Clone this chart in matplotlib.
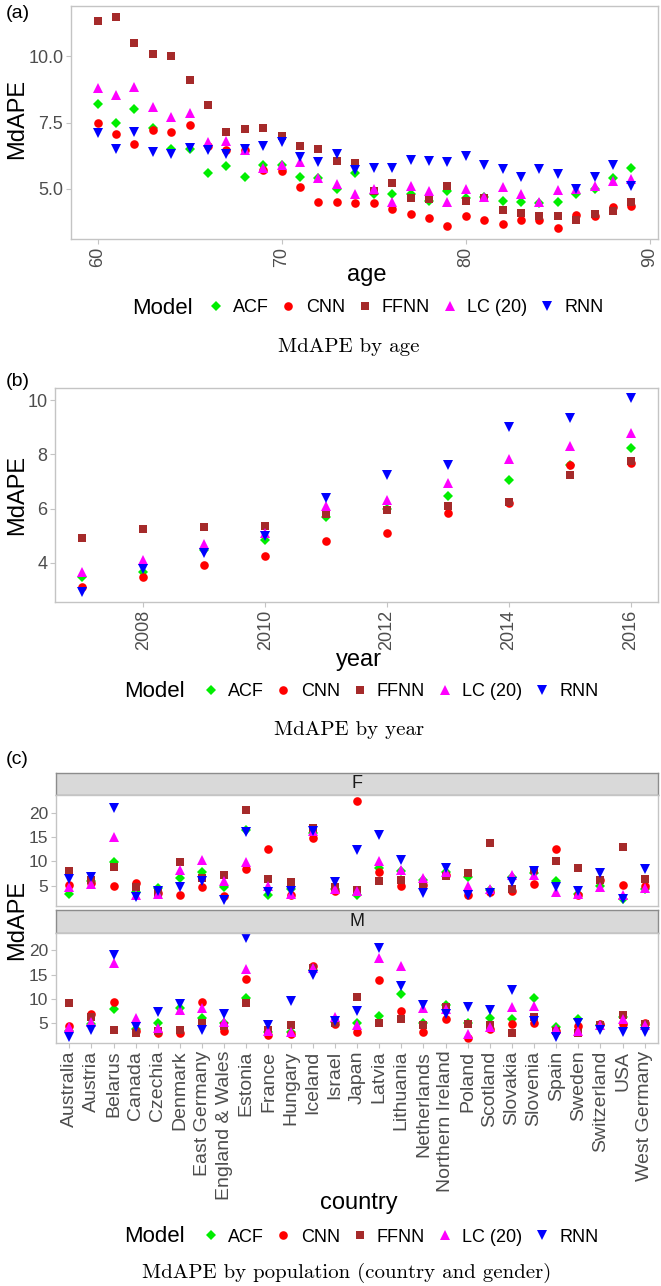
import matplotlib
matplotlib.use("Agg")
import matplotlib.pyplot as plt
from matplotlib.lines import Line2D
import numpy as np

plt.rcParams['font.family'] = ['Liberation Sans', 'DejaVu Sans']

# ---------------- data ----------------
models = ["ACF", "CNN", "FFNN", "LC (20)", "RNN"]
colors = ["#00EE00", "#FF0000", "#A52A2A", "#FF00FF", "#0000FF"]
markers = ["D", "o", "s", "^", "v"]
msizes = [5.2, 6.2, 5.4, 7.6, 7.6]

ages = list(range(60, 90))
acf_age = [8.2, 7.5, 8.0, 7.3, 6.5, 6.5, 5.6, 5.85, 5.45, 5.9, 5.9, 5.45, 5.4, 5.0, 5.6,
           4.8, 4.8, 4.8, 4.55, 4.9, 4.65, 4.7, 4.55, 4.5, 4.45, 4.5, 4.8, 4.98, 5.4, 5.8]
cnn_age = [7.5, 7.06, 6.7, 7.2, 7.15, 7.4, 6.6, 6.45, 6.45, 5.7, 5.65, 5.05, 4.5, 4.5, 4.45,
           4.45, 4.25, 4.05, 3.9, 3.6, 3.95, 3.8, 3.65, 3.8, 3.8, 3.5, 4.0, 3.95, 4.3, 4.35]
ffnn_age = [11.35, 11.5, 10.5, 10.1, 10.0, 9.1, 8.15, 7.15, 7.25, 7.3, 7.0, 6.6, 6.5, 6.05, 5.98,
            4.9, 5.2, 4.65, 4.6, 5.1, 4.55, 4.65, 4.2, 4.1, 3.95, 3.95, 3.8, 4.05, 4.15, 4.5]
lc_age = [8.8, 8.54, 8.85, 8.1, 7.7, 7.85, 6.75, 6.8, 6.45, 5.8, 5.9, 6.0, 5.4, 5.16, 4.8,
          5.0, 4.5, 5.1, 4.9, 4.5, 4.97, 4.7, 5.05, 4.8, 4.5, 4.95, 5.0, 5.1, 5.3, 5.35]
rnn_age = [7.1, 6.5, 7.15, 6.4, 6.3, 6.55, 6.45, 6.3, 6.5, 6.6, 6.75, 6.2, 6.0, 6.3, 5.7,
           5.8, 5.8, 6.1, 6.05, 6.0, 6.25, 5.9, 5.75, 5.45, 5.75, 5.55, 5.0, 5.45, 5.9, 5.1]

years = list(range(2007, 2017))
acf_year = [3.45, 3.65, 4.45, 4.85, 5.7, 6.0, 6.45, 7.05, 7.6, 8.25]
cnn_year = [3.1, 3.45, 3.9, 4.25, 4.8, 5.1, 5.85, 6.2, 7.6, 7.7]
ffnn_year = [4.9, 5.25, 5.3, 5.35, 5.8, 5.95, 6.1, 6.25, 7.25, 7.75]
lc_year = [3.65, 4.1, 4.7, 5.1, 6.1, 6.3, 6.95, 7.85, 8.3, 8.8]
rnn_year = [2.9, 3.75, 4.35, 5.0, 6.4, 7.25, 7.6, 9.0, 9.35, 10.1]

countries = ["Australia", "Austria", "Belarus", "Canada", "Czechia", "Denmark",
             "East Germany", "England & Wales", "Estonia", "France", "Hungary",
             "Iceland", "Israel", "Japan", "Latvia", "Lithuania", "Netherlands",
             "Northern Ireland", "Poland", "Scotland", "Slovakia", "Slovenia",
             "Spain", "Sweden", "Switzerland", "USA", "West Germany"]
genders = ["F", "M"]

acf_F = [3.4, 6.0, 9.8, 3.8, 4.6, 6.7, 7.8, 4.7, 16.5, 3.1, 4.3, 15.8, 4.4, 3.1, 8.6, 8.0,
         6.2, 7.8, 6.9, 4.1, 6.9, 7.6, 6.0, 3.4, 5.0, 2.4, 4.4]
cnn_F = [5.1, 5.5, 4.9, 5.6, 3.6, 3.2, 4.7, 2.9, 8.4, 12.5, 3.2, 14.8, 3.9, 22.4, 7.8, 5.0,
         5.1, 7.2, 3.2, 3.8, 3.9, 5.3, 12.6, 3.1, 6.2, 5.1, 4.9]
ffnn_F = [8.1, 6.2, 8.8, 4.8, 3.6, 9.9, 6.7, 7.3, 20.6, 6.5, 5.8, 16.9, 4.8, 4.1, 6.0, 6.2,
          5.3, 7.0, 7.6, 13.8, 4.3, 8.2, 10.0, 8.6, 6.2, 12.9, 6.5]
lc_F = [4.8, 5.3, 15.1, 3.2, 3.3, 8.2, 10.2, 6.0, 9.9, 5.0, 3.4, 16.2, 4.4, 3.9, 10.0, 8.2,
        6.7, 7.9, 5.0, 4.3, 7.3, 7.3, 3.8, 3.3, 4.7, 3.1, 4.6]
rnn_F = [6.3, 6.9, 21.0, 2.7, 3.9, 4.7, 6.0, 2.0, 16.0, 3.8, 4.0, 16.2, 5.8, 12.4, 15.5, 10.3,
         3.6, 8.7, 3.2, 3.6, 5.8, 8.0, 4.8, 4.0, 7.6, 2.4, 8.4]

acf_M = [3.4, 4.8, 7.9, 3.8, 4.9, 8.2, 6.0, 5.1, 10.2, 3.1, 3.1, 16.0, 5.3, 5.1, 6.5, 10.9,
         5.1, 8.7, 5.1, 6.0, 5.8, 10.2, 4.1, 5.8, 4.5, 6.2, 4.5]
cnn_M = [4.3, 6.8, 9.4, 3.4, 2.9, 2.9, 9.4, 3.4, 14.1, 2.6, 2.8, 16.7, 4.8, 3.1, 13.8, 7.5,
         3.2, 5.8, 1.9, 3.8, 4.7, 4.9, 3.4, 4.3, 4.8, 4.8, 5.1]
ffnn_M = [9.2, 6.2, 3.6, 3.0, 3.4, 3.6, 4.9, 4.3, 9.2, 3.6, 4.5, 16.4, 5.1, 10.4, 4.9, 5.8,
          4.5, 8.3, 4.8, 4.5, 3.0, 6.2, 3.4, 2.9, 4.5, 6.6, 4.7]
lc_M = [4.1, 5.3, 17.4, 6.0, 4.0, 7.7, 8.1, 5.3, 16.2, 3.4, 3.1, 16.4, 6.2, 4.5, 18.4, 16.8,
        8.0, 7.9, 2.8, 4.1, 8.4, 8.5, 3.8, 3.4, 4.5, 5.8, 4.5]
rnn_M = [2.1, 3.6, 19.1, 4.1, 7.2, 9.0, 3.6, 6.8, 22.5, 4.6, 9.6, 15.0, 5.5, 7.5, 20.6, 12.6,
         8.7, 6.8, 8.3, 7.7, 11.9, 5.5, 2.1, 5.1, 3.6, 3.2, 3.1]

# ---------------- figure ----------------
W, H = 661, 1286
fig = plt.figure(figsize=(W / 100, H / 100), dpi=100)


def rect(l, t, r, b):
    return [l / W, 1 - b / H, (r - l) / W, (b - t) / H]


def fx(px):
    return px / W


def fy(py):
    return 1 - py / H


BORDER = "#C4C4C4"
TICKC = "#4D4D4D"


def style(ax, tick_fs=13):
    for s in ax.spines.values():
        s.set_color(BORDER)
        s.set_linewidth(1.0)
    ax.tick_params(colors=BORDER, labelcolor=TICKC, labelsize=tick_fs, length=3.5, width=0.8,
                   pad=2)
    ax.set_facecolor("white")


def scatter_models(ax, x, series):
    for vals, c, m, ms in zip(series, colors, markers, msizes):
        ax.plot(x, vals, linestyle="none", marker=m, color=c, markersize=ms,
                markeredgewidth=0)


def legend_row(ycenter, model_left, entries_center):
    fig.text(fx(model_left), fy(ycenter), "Model", fontsize=16, ha="left", va="center")
    handles = [Line2D([], [], linestyle="none", marker=m, color=c, markersize=ms,
                      markeredgewidth=0)
               for c, m, ms in zip(colors, markers, msizes)]
    fig.legend(handles, models, ncol=5, frameon=False, loc="center",
               bbox_to_anchor=(fx(entries_center), fy(ycenter)),
               fontsize=13, handlelength=1.0, handletextpad=0.45, columnspacing=0.6,
               borderaxespad=0, borderpad=0)


def caption(ycenter, xcenter, text):
    fig.text(fx(xcenter), fy(ycenter), text, fontsize=15, family="cmr10",
             ha="center", va="center")


def label(x, y, text, rot=0):
    fig.text(fx(x), fy(y), text, fontsize=17, rotation=rot, ha="center", va="center")


# ---- panel (a) ----
ax1 = fig.add_axes(rect(71, 6, 658, 239))
style(ax1, 13)
scatter_models(ax1, ages, [acf_age, cnn_age, ffnn_age, lc_age, rnn_age])
ax1.set_xlim(58.55, 90.45)
ax1.set_ylim(3.1, 11.9)
ax1.set_xticks([60, 70, 80, 90])
ax1.set_yticks([5.0, 7.5, 10.0])
ax1.set_yticklabels(["5.0", "7.5", "10.0"])
ax1.tick_params(axis="x", labelrotation=90)
label(367, 275, "age")
label(17, 119, "MdAPE", 90)
fig.text(fx(6), fy(14), "(a)", fontsize=14, ha="left", va="center")
legend_row(308, 132, 405)
caption(347, 349, "MdAPE by age")

# ---- panel (b) ----
ax2 = fig.add_axes(rect(55, 388, 658, 602))
style(ax2, 13)
scatter_models(ax2, years, [acf_year, cnn_year, ffnn_year, lc_year, rnn_year])
ax2.set_xlim(2006.55, 2016.45)
ax2.set_ylim(2.54, 10.46)
ax2.set_xticks([2008, 2010, 2012, 2014, 2016])
ax2.set_yticks([4, 6, 8, 10])
ax2.tick_params(axis="x", labelrotation=90)
label(359, 660, "year")
label(17, 495, "MdAPE", 90)
fig.text(fx(6), fy(381), "(b)", fontsize=14, ha="left", va="center")
legend_row(692, 124, 400)
caption(730, 349, "MdAPE by year")

# ---- panel (c) ----
xc = np.arange(1, len(countries) + 1)
panels = {
    "F": (773, 795, 906, [acf_F, cnn_F, ffnn_F, lc_F, rnn_F]),
    "M": (910, 933, 1043, [acf_M, cnn_M, ffnn_M, lc_M, rnn_M]),
}
axes_c = []
for g in genders:
    st, pt, pb, series = panels[g]
    sax = fig.add_axes(rect(56, st, 658, pt))
    sax.set_facecolor("#D9D9D9")
    for s in sax.spines.values():
        s.set_color("#8C8C8C")
        s.set_linewidth(1.0)
    sax.set_xticks([])
    sax.set_yticks([])
    sax.text(0.5, 0.5, g, transform=sax.transAxes, ha="center", va="center",
             fontsize=13, color="#1A1A1A")
    ax = fig.add_axes(rect(56, pt, 658, pb))
    style(ax, 12.5)
    scatter_models(ax, xc, series)
    ax.set_xlim(0.4, len(countries) + 0.6)
    ax.set_ylim(0.87, 23.6)
    ax.set_yticks([5, 10, 15, 20])
    ax.set_xticks(xc)
    axes_c.append(ax)

axes_c[0].set_xticklabels([])
axes_c[0].tick_params(axis="x", length=0)
axes_c[1].set_xticklabels(countries, rotation=90, fontsize=14)
label(359, 1203, "country")
label(17, 920, "MdAPE", 90)
fig.text(fx(6), fy(760), "(c)", fontsize=14, ha="left", va="center")
legend_row(1237, 124, 400)
caption(1273, 347, "MdAPE by population (country and gender)")

fig.savefig("out.png", dpi=100)
